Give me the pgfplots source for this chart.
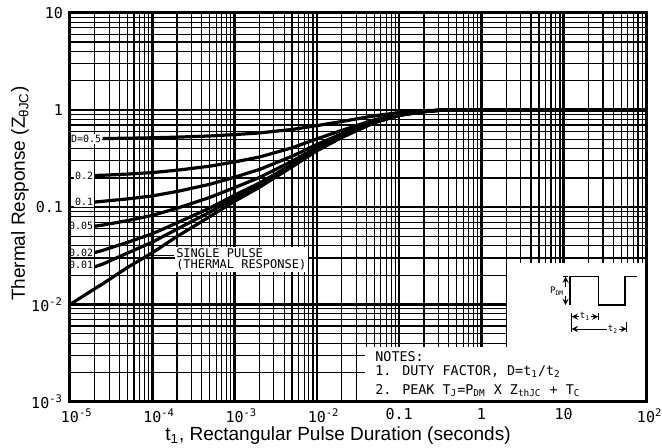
\documentclass[border=0pt]{standalone}
\usepackage{fontspec}
\setmainfont{Liberation Sans}
\newfontfamily\mono{DejaVu Sans Mono}
\usepackage{pgfplots}
\pgfplotsset{compat=1.18}
\pgfplotsset{curve/.style={black, solid, line width=1.6pt, mark=none}}

% single pulse and duty-cycle curves
\pgfplotstableread{
x       zs      d50    d20    d10    d05    d02    d01
1e-5    0.0100  nan    nan    nan    nan    nan    nan
2e-5    0.0145  nan    0.212  0.113  0.0638 0.0342 0.0244
2.5e-5  0.0163  0.508  0.213  0.115  0.0655 0.036  0.026
5e-5    0.0240  0.512  0.219  0.1216 0.0728 0.0435 0.0338
1e-4    0.0340  0.517  0.227  0.1306 0.0823 0.0533 0.0437
2e-4    0.0500  0.525  0.240  0.145  0.0975 0.069  0.0595
5e-4    0.0800  0.540  0.264  0.172  0.126  0.098  0.089
1e-3    0.1150  0.558  0.292  0.2035 0.159  0.133  0.124
2e-3    0.1600  0.580  0.328  0.244  0.202  0.177  0.168
5e-3    0.2600  0.630  0.408  0.334  0.297  0.275  0.267
1e-2    0.3800  0.690  0.504  0.442  0.411  0.392  0.386
2e-2    0.5200  0.760  0.616  0.568  0.544  0.530  0.525
5e-2    0.7400  0.870  0.792  0.766  0.753  0.745  0.743
0.1     0.8800  0.940  0.904  0.892  0.886  0.882  0.881
0.2     0.9600  0.980  0.968  0.964  0.962  0.961  0.960
0.3     0.9900  0.995  0.992  0.991  0.990  0.990  0.990
0.5     1.0000  1.000  1.000  1.000  1.000  1.000  1.000
100     1.0000  1.000  1.000  1.000  1.000  1.000  1.000
}\zth

\begin{document}
\begin{tikzpicture}
\useasboundingbox (-35pt,-23.15pt) rectangle (296pt,200.85pt);
\begin{axis}[
    scale only axis,
    width=288pt, height=194.5pt,
    xmode=log, ymode=log,
    xmin=1e-5, xmax=1e2,
    ymin=1e-3, ymax=10,
    xtick={1e-5,1e-4,1e-3,1e-2,1e-1,1,10,100},
    xticklabels={10\rlap{\textsuperscript{-5}},10\rlap{\textsuperscript{-4}},10\rlap{\textsuperscript{-3}},10\rlap{\textsuperscript{-2}},0.1,1,10,10\rlap{\textsuperscript{2}}},
    ytick={1e-3,1e-2,1e-1,1,10},
    yticklabels={10\textsuperscript{-3},10\textsuperscript{-2},0.1,1,10},
    minor xtick={2e-5,3e-5,4e-5,5e-5,6e-5,7e-5,8e-5,9e-5,
                 2e-4,3e-4,4e-4,5e-4,6e-4,7e-4,8e-4,9e-4,
                 2e-3,3e-3,4e-3,5e-3,6e-3,7e-3,8e-3,9e-3,
                 2e-2,3e-2,4e-2,5e-2,6e-2,7e-2,8e-2,9e-2,
                 0.2,0.3,0.4,0.5,0.6,0.7,0.8,0.9,
                 2,3,4,5,6,7,8,9,
                 20,30,40,50,60,70,80,90},
    minor ytick={2e-3,3e-3,4e-3,5e-3,6e-3,7e-3,8e-3,9e-3,
                 2e-2,3e-2,4e-2,5e-2,6e-2,7e-2,8e-2,9e-2,
                 0.2,0.3,0.4,0.5,0.6,0.7,0.8,0.9,
                 2,3,4,5,6,7,8,9},
    grid=both,
    major grid style={black, line width=1.3pt},
    minor grid style={black, line width=0.6pt},
    major tick length=0pt, minor tick length=0pt,
    axis line style={black, line width=1.5pt},
    tick label style={font=\mono\fontsize{7.5}{8}\selectfont},
    label style={font=\fontsize{9.5}{11}\selectfont},
    xlabel={t\textsubscript{1}, Rectangular Pulse Duration (seconds)},
    xlabel style={at={(axis description cs:0.4653,0)}, anchor=center, yshift=-17.15pt},
    ylabel={Thermal Response (Z\textsubscript{θJC})},
    ylabel style={at={(axis description cs:-0.0868,0.535)}, anchor=center},
    unbounded coords=jump,
  ]
  \addplot[curve] table[x=x, y=zs]  {\zth};
  \addplot[curve] table[x=x, y=d01] {\zth};
  \addplot[curve] table[x=x, y=d02] {\zth};
  \addplot[curve] table[x=x, y=d05] {\zth};
  \addplot[curve] table[x=x, y=d10] {\zth};
  \addplot[curve] table[x=x, y=d20] {\zth};
  \addplot[curve] table[x=x, y=d50] {\zth};

  % curve labels
  \begin{scope}[every node/.style={font=\mono\fontsize{5}{6}\selectfont, fill=white, inner sep=0.6pt, anchor=east}]
    \node at (axis cs:2.5e-5,0.508) {D=0.5};
    \node at (axis cs:2e-5,0.212) {0.2};
    \node at (axis cs:2e-5,0.113) {0.1};
    \node at (axis cs:2e-5,0.0638) {0.05};
    \node at (axis cs:2e-5,0.0342) {0.02};
    \node at (axis cs:2e-5,0.0255) {0.01};
  \end{scope}
  \draw[black, line width=0.5pt] (axis cs:1e-4,0.0317) -- (axis cs:1.85e-4,0.0317);
  \node[anchor=west, fill=white, inner sep=0.8pt, align=left,
        font=\mono\fontsize{6}{5.5}\selectfont] at (axis cs:1.85e-4,0.029)
        {SINGLE PULSE\\(THERMAL RESPONSE)};

  % blank areas for notes and inset
  \fill[white] (axis cs:0.0384,1e-3) rectangle (axis cs:100,0.00368);
  \fill[white] (axis cs:2.02,1e-3) rectangle (axis cs:100,0.0267);
  \draw[black, line width=1.5pt] (rel axis cs:0,0) rectangle (rel axis cs:1,1);
\end{axis}

\begin{scope}[x=1pt, y=1pt]
% notes
\begin{scope}[every node/.style={font=\mono\fontsize{6.7}{8}\selectfont, anchor=west, inner sep=0pt}]
  \node at (152.5,22.5) {NOTES:};
  \node at (152.5,15) {1. DUTY FACTOR, D=t\textsubscript{1}/t\textsubscript{2}};
  \node at (152.5,5.5) {2. PEAK T\textsubscript{J}=P\textsubscript{DM} X Z\textsubscript{thJC} + T\textsubscript{C}};
\end{scope}

% pulse inset
\draw[black, line width=0.7pt] (250,48.35) -- (250,62.5) -- (264.15,62.5) -- (264.15,48.35)
  -- (277.5,48.35) -- (277.5,62.5) -- (283.35,62.5);
\draw[black, line width=0.4pt, -stealth] (247.8,57.5) -- (247.8,62.5);
\draw[black, line width=0.4pt, -stealth] (247.8,53) -- (247.8,48.35);
\draw[black, line width=0.4pt] (246.6,62.5) -- (249,62.5);
\node[font=\mono\fontsize{4.5}{5}\selectfont, anchor=east, inner sep=0.3pt] at (247.6,55.3) {P\textsubscript{DM}};
\draw[black, line width=0.4pt] (250.85,35) -- (250.85,44.35);
\draw[black, line width=0.4pt] (264.15,40.85) -- (264.15,44.35);
\draw[black, line width=0.4pt] (278.35,35) -- (278.35,40);
\draw[black, line width=0.4pt, stealth-stealth] (250.85,42.5) -- (264.15,42.5);
\node[font=\mono\fontsize{4.5}{5}\selectfont, fill=white, inner sep=0.4pt] at (257.5,42.5) {t\textsubscript{1}};
\draw[black, line width=0.4pt, stealth-stealth] (250.85,36.35) -- (278.35,36.35);
\node[font=\mono\fontsize{4.5}{5}\selectfont, fill=white, inner sep=0.4pt] at (271.5,36.35) {t\textsubscript{2}};
\end{scope}
\end{tikzpicture}
\end{document}
